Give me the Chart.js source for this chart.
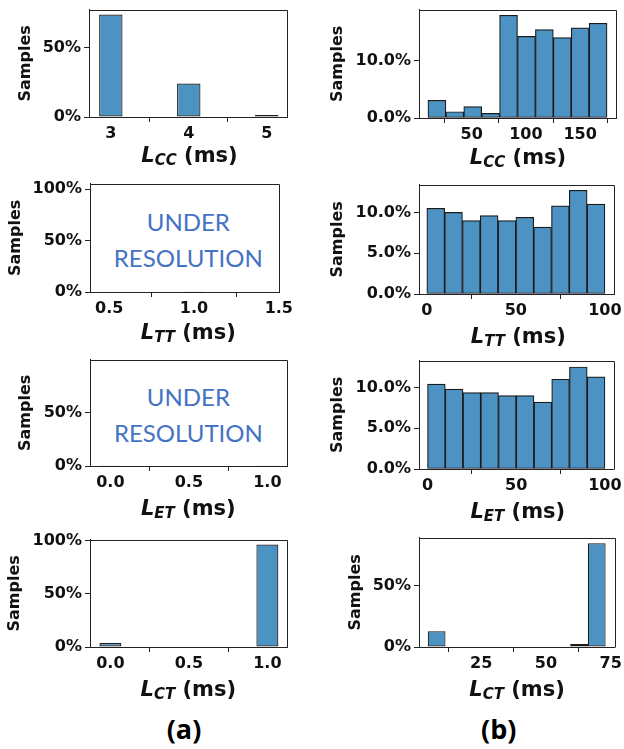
<!DOCTYPE html>
<html>
<head>
<meta charset="utf-8">
<script src="https://cdn.jsdelivr.net/npm/chart.js@4.4.1/dist/chart.umd.min.js"></script>
<style>
  body { margin: 0; background: #fff; }
  #fig { position: relative; width: 624px; height: 749px; overflow: hidden; background: #fff; }
  #fig canvas { position: absolute; }
  .xlab { position: absolute; transform: translate(-50%, -50%); font: bold 21px "DejaVu Sans"; color: #111; white-space: nowrap; line-height: 1; }
  .xlab i sub { font-size: 15px; vertical-align: baseline; position: relative; top: 3px; }
  .note { position: absolute; transform: translate(-50%, -50%); font: 24px Lato; color: #4472c4; text-align: center; line-height: 36px; white-space: nowrap; }
  .tag { position: absolute; transform: translate(-50%, -50%); font: bold 27px "Open Sans"; color: #000; line-height: 1; }
</style>
</head>
<body>
<div id="fig">
  <div class="note" style="left:188.3px;top:239.5px">UNDER<br>RESOLUTION</div>
  <div class="note" style="left:188.4px;top:414.7px">UNDER<br>RESOLUTION</div>
  <div class="tag" style="left:184px;top:727.5px">(a)</div>
  <div class="tag" style="left:498.7px;top:727.5px">(b)</div>
</div>
<script>
// (a) short latency, percent of samples per bin (bin centres in ms)
const ccShortX = [3, 4, 5];
const ccShortY = [74.3, 24.3, 1.4];
const ttShortX = [1.0];
const ttShortY = [0.8];
const etShortX = [0, 1];
const etShortY = [0.6, 0.6];
const ctShortX = [0, 1];
const ctShortY = [3.8, 96.2];

// (b) long latency histograms
const ccLongX = [18, 34.5, 51, 67.5, 84, 100.5, 117, 133.5, 150, 166.5];
const ccLongY = [3.1, 1.1, 2.0, 0.8, 18.0, 14.3, 15.5, 14.1, 15.8, 16.6];
const ttLongX = [5, 15, 25, 35, 45, 55, 65, 75, 85, 95];
const ttLongY = [10.5, 10.0, 9.0, 9.6, 9.0, 9.4, 8.2, 10.8, 12.7, 11.0];
const etLongX = [5, 15, 25, 35, 45, 55, 65, 75, 85, 95];
const etLongY = [10.4, 9.8, 9.35, 9.35, 9.0, 9.0, 8.2, 11.0, 12.5, 11.3];
const ctLongX = [7.8, 14.7, 21.5, 28.4, 35.3, 42.2, 49.0, 55.9, 62.8, 69.6];
const ctLongY = [12.9, 0, 0, 0, 0, 0, 0, 0, 2.4, 84.7];

// histogram bin widths (ms)
const ccShortBin = 0.3, ttShortBin = 0.107, etShortBin = 0.14, ctShortBin = 0.14;
const ccLongBin = 16.5, ttLongBin = 10, etLongBin = 10, ctLongBin = 6.87;

// tick labels
const ccShortXTicks = ['3', '4', '5'];
const ttShortXTicks = ['0.5', '1.0', '1.5'];
const etShortXTicks = ['0.0', '0.5', '1.0'];
const ctShortXTicks = ['0.0', '0.5', '1.0'];
const ccLongXTicks = ['50', '100', '150'];
const ttLongXTicks = ['0', '50', '100'];
const etLongXTicks = ['0', '50', '100'];
const ctLongXTicks = ['25', '50', '75'];
const pctTicks2 = ['0%', '50%'];
const pctTicks3 = ['0%', '50%', '100%'];
const ccLongYTicks = ['0.0%', '10.0%'];
const ttLongYTicks = ['0.0%', '5.0%', '10.0%'];
const etLongYTicks = ['0.0%', '5.0%', '10.0%'];

const panels = [
  { col: 0, box: [89, 5, 287, 117], x: ccShortX, y: ccShortY, bin: ccShortBin, xr: [2.72, 5.26], yMax: 77.8, xt: ccShortXTicks, yt: pctTicks2, sub: 'CC', lab: [189.5, 155], tx: 26 },
  { col: 312, box: [419, 5, 616, 118], x: ccLongX, y: ccLongY, bin: ccLongBin, xr: [1.5, 183], yMax: 19.0, xt: ccLongXTicks, yt: ccLongYTicks, sub: 'CC', lab: [518, 156.5], tx: 26 },
  { col: 0, box: [90, 179, 287, 292], x: ttShortX, y: ttShortY, bin: ttShortBin, xr: [0.387, 1.503], yMax: 105.3, xt: ttShortXTicks, yt: pctTicks3, sub: 'TT', lab: [188.3, 331.7], tx: 15.8 },
  { col: 312, box: [419, 180, 616, 294], x: ttLongX, y: ttLongY, bin: ttLongBin, xr: [-4.4, 105.3], yMax: 13.4, xt: ttLongXTicks, yt: ttLongYTicks, sub: 'TT', lab: [518.3, 335.8], tx: 26 },
  { col: 0, box: [90, 355, 287, 466], x: etShortX, y: etShortY, bin: etShortBin, xr: [-0.13, 1.125], yMax: 100, xt: etShortXTicks, yt: pctTicks2, sub: 'ET', lab: [188.3, 507.5], tx: 26 },
  { col: 312, box: [419, 356, 616, 469], x: etLongX, y: etLongY, bin: etLongBin, xr: [-4.8, 105], yMax: 13.28, xt: etLongXTicks, yt: etLongYTicks, sub: 'ET', lab: [517.8, 510.8], tx: 26 },
  { col: 0, box: [90, 535, 287, 647], x: ctShortX, y: ctShortY, bin: ctShortBin, xr: [-0.13, 1.125], yMax: 100.9, xt: ctShortXTicks, yt: pctTicks3, sub: 'CT', lab: [188.3, 689.2], tx: 15 },
  { col: 312, box: [419, 533, 617, 647], x: ctLongX, y: ctLongY, bin: ctLongBin, xr: [1.0, 76.5], yMax: 89.4, xt: ctLongXTicks, yt: pctTicks2, sub: 'CT', lab: [517, 689.2], tx: 44 }
];

const ink = '#111';
const spine = '#222';
const edge = '#1a1a1a';
const tickFont = { family: 'DejaVu Sans', weight: 'bold', size: 16 };

// top and right spines, like matplotlib's closed axes box
const frame = {
  id: 'frame',
  afterDraw(chart) {
    const { ctx, chartArea: a } = chart;
    const l = Math.round(a.left) + 0.5, t = Math.round(a.top) + 0.5;
    const r = Math.round(a.right) + 0.5, b = Math.round(a.bottom) + 0.5;
    ctx.save();
    ctx.strokeStyle = spine;
    ctx.lineWidth = 1;
    ctx.beginPath();
    ctx.moveTo(l, t);
    ctx.lineTo(r, t);
    ctx.lineTo(r, b);
    ctx.stroke();
    ctx.restore();
  }
};

function smallestGap(vals) {
  let m = Infinity;
  for (let i = 1; i < vals.length; i++) m = Math.min(m, vals[i] - vals[i - 1]);
  return m;
}

const fig = document.getElementById('fig');

panels.forEach(p => {
  const [l, t, r, b] = p.box;
  const padTop = 8, padRight = 8, xAxisH = 30;
  const canvas = document.createElement('canvas');
  canvas.width = Math.min(r + padRight, p.col + 312) - p.col;
  canvas.height = b - t + padTop + xAxisH;
  canvas.style.left = p.col + 'px';
  canvas.style.top = (t - padTop) + 'px';
  fig.appendChild(canvas);

  const xVals = p.xt.map(parseFloat);
  const yVals = p.yt.map(parseFloat);
  // Chart.js sizes bars from the smallest gap between data points / ticks
  const gap = Math.min(smallestGap(p.x), smallestGap(xVals), p.xr[1] - p.xr[0]);

  const axisStyle = {
    grid: { display: true, drawOnChartArea: false, drawTicks: true, tickLength: 5, tickColor: spine, tickWidth: 1 },
    border: { display: true, color: spine, width: 1 }
  };

  new Chart(canvas, {
    type: 'bar',
    data: {
      datasets: [{
        data: p.x.map((v, i) => ({ x: v, y: p.y[i] })),
        backgroundColor: '#4c92c3',
        borderColor: edge,
        borderWidth: 1.2,
        borderSkipped: false,
        categoryPercentage: 1,
        barPercentage: p.bin / gap
      }]
    },
    options: {
      responsive: false,
      animation: false,
      events: [],
      layout: { padding: { top: padTop, right: padRight, left: 0, bottom: 0 } },
      plugins: { legend: { display: false }, tooltip: { enabled: false } },
      scales: {
        x: {
          type: 'linear', min: p.xr[0], max: p.xr[1], offset: false,
          ...axisStyle,
          ticks: { color: ink, font: tickFont, padding: 2, maxRotation: 0, minRotation: 0, autoSkip: false,
                   callback: v => p.xt[xVals.indexOf(v)] },
          afterBuildTicks: s => { s.ticks = xVals.map(v => ({ value: v })); },
          afterFit: s => { s.height = xAxisH; }
        },
        y: {
          type: 'linear', min: 0, max: p.yMax,
          ...axisStyle,
          ticks: { color: ink, font: tickFont, padding: 3, autoSkip: false,
                   callback: v => p.yt[yVals.indexOf(v)] },
          title: { display: true, text: 'Samples', color: ink, font: tickFont,
                   padding: { top: p.tx - 9.6, bottom: 0 } },
          afterBuildTicks: s => { s.ticks = yVals.map(v => ({ value: v })); },
          afterFit: s => { s.width = l - p.col; }
        }
      }
    },
    plugins: [frame]
  });

  const lab = document.createElement('div');
  lab.className = 'xlab';
  lab.style.left = p.lab[0] + 'px';
  lab.style.top = p.lab[1] + 'px';
  lab.innerHTML = '<i>L<sub>' + p.sub + '</sub></i> (ms)';
  fig.appendChild(lab);
});
</script>
</body>
</html>
